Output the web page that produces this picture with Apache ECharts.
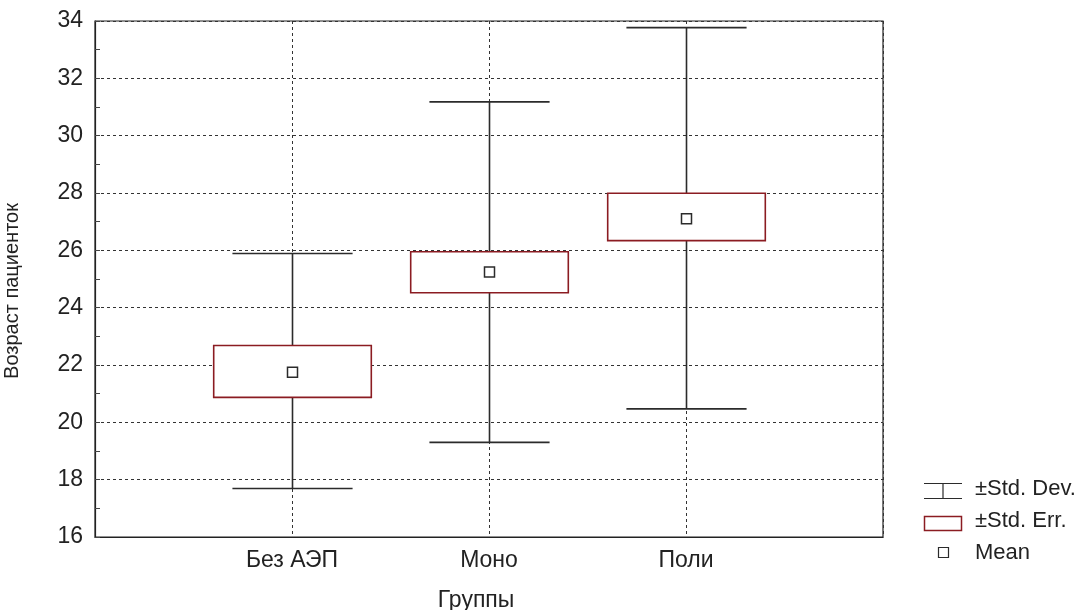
<!DOCTYPE html>
<html>
<head>
<meta charset="utf-8">
<script src="https://cdn.jsdelivr.net/npm/echarts@6/dist/echarts.min.js"></script>
<style>
  html, body { margin: 0; padding: 0; background: #fff; }
  #chart { width: 1080px; height: 610px; }
</style>
</head>
<body>
<div id="chart"></div>
<script>
// группы и статистики (оценены по рисунку)
const groups = ['Без АЭП', 'Моно', 'Поли'];
const groupPos = [1, 2, 3];
const means = [21.75, 25.24, 27.1];
const seLow = [20.87, 24.52, 26.34];
const seHigh = [22.68, 25.95, 27.99];
const sdLow = [17.69, 19.3, 20.47];
const sdHigh = [25.89, 31.18, 33.77];

const lineColor = '#2b2b2b';
const boxColor = '#8b1c22';
const font = 'Liberation Sans, Arial, sans-serif';

const chart = echarts.init(document.getElementById('chart'));

const seriesData = groupPos.map((x, i) => [x, means[i], seLow[i], seHigh[i], sdLow[i], sdHigh[i]]);

const renderBox = (params, api) => {
    const x = api.value(0);
    const mean = api.coord([x, api.value(1)]);
    const seL = api.coord([x, api.value(2)]);
    const seH = api.coord([x, api.value(3)]);
    const sdL = api.coord([x, api.value(4)]);
    const sdH = api.coord([x, api.value(5)]);
    const boxHalf = api.size([0.4, 0])[0];
    const capHalf = api.size([0.305, 0])[0];
    const cx = Math.round(mean[0]) + 0.5;
    const ls = { stroke: lineColor, lineWidth: 1.6 };
    return {
        type: 'group',
        children: [
            { type: 'line', shape: { x1: cx, y1: sdL[1], x2: cx, y2: sdH[1] }, style: ls },
            { type: 'line', shape: { x1: cx - capHalf, y1: sdL[1], x2: cx + capHalf, y2: sdL[1] }, style: ls },
            { type: 'line', shape: { x1: cx - capHalf, y1: sdH[1], x2: cx + capHalf, y2: sdH[1] }, style: ls },
            {
                type: 'rect',
                shape: { x: cx - boxHalf, y: seH[1], width: boxHalf * 2, height: seL[1] - seH[1] },
                style: { fill: '#fff', stroke: boxColor, lineWidth: 1.6 }
            },
            {
                type: 'rect',
                shape: { x: cx - 5, y: mean[1] - 5, width: 10, height: 10 },
                style: { fill: '#fff', stroke: lineColor, lineWidth: 1.5 }
            }
        ]
    };
};

// легенда справа
const lx = 924, lw = 38;
const legendFont = '22px ' + font;
const legendGraphic = [
    { type: 'line', shape: { x1: lx, y1: 483.5, x2: lx + lw, y2: 483.5 }, style: { stroke: lineColor, lineWidth: 1.2 } },
    { type: 'line', shape: { x1: lx + lw / 2, y1: 483.5, x2: lx + lw / 2, y2: 498.5 }, style: { stroke: lineColor, lineWidth: 1.2 } },
    { type: 'line', shape: { x1: lx, y1: 498.5, x2: lx + lw, y2: 498.5 }, style: { stroke: lineColor, lineWidth: 1.2 } },
    { type: 'text', x: 975, y: 489, style: { text: '±Std. Dev.', font: legendFont, fill: '#222', verticalAlign: 'middle' } },
    { type: 'rect', shape: { x: lx + 0.5, y: 516.5, width: lw - 1, height: 14 }, style: { fill: '#fff', stroke: boxColor, lineWidth: 1.5 } },
    { type: 'text', x: 975, y: 521, style: { text: '±Std. Err.', font: legendFont, fill: '#222', verticalAlign: 'middle' } },
    { type: 'rect', shape: { x: 938.5, y: 547.5, width: 10, height: 10 }, style: { fill: '#fff', stroke: lineColor, lineWidth: 1.2 } },
    { type: 'text', x: 975, y: 553, style: { text: 'Mean', font: legendFont, fill: '#222', verticalAlign: 'middle' } }
];

chart.setOption({
    backgroundColor: '#fff',
    animation: false,
    textStyle: { fontFamily: font },
    grid: {
        left: 95, right: 197, top: 21, bottom: 73,
        outerBoundsMode: 'none',
        containLabel: false,
        show: true, borderColor: '#222', borderWidth: 1.2, backgroundColor: 'transparent'
    },
    xAxis: {
        type: 'value',
        min: 0, max: 4, interval: 1,
        name: 'Группы',
        nameLocation: 'middle',
        nameGap: 52,
        nameTextStyle: { fontSize: 23, color: '#222', padding: [0, 26, 0, 0] },
        axisLine: { show: true, lineStyle: { color: '#222', width: 1.2 } },
        axisTick: { show: false },
        axisLabel: {
            fontSize: 23, color: '#222', margin: 12,
            formatter: (v) => {
                const idx = groupPos.indexOf(v);
                return idx >= 0 ? groups[idx] : '';
            }
        },
        splitLine: { show: true, lineStyle: { color: '#333', type: [3, 3], width: 1 } }
    },
    yAxis: {
        type: 'value',
        min: 16, max: 34, interval: 2,
        name: 'Возраст пациенток',
        nameLocation: 'middle',
        nameGap: 73,
        nameTextStyle: { fontSize: 20, color: '#222', padding: [0, 24, 0, 0] },
        axisLine: { show: true, lineStyle: { color: '#222', width: 1.2 } },
        axisTick: { show: true, inside: true, length: 5, lineStyle: { color: '#444' } },
        minorTick: { show: true, splitNumber: 2, length: 5, lineStyle: { color: '#444' } },
        axisLabel: { fontSize: 23, color: '#222', margin: 12 },
        splitLine: { show: true, lineStyle: { color: '#333', type: [3, 3], width: 1 } }
    },
    graphic: legendGraphic,
    series: [{
        type: 'custom',
        renderItem: renderBox,
        encode: { x: 0, y: [1, 2, 3, 4, 5] },
        data: seriesData,
        z: 5
    }]
});
</script>
</body>
</html>
